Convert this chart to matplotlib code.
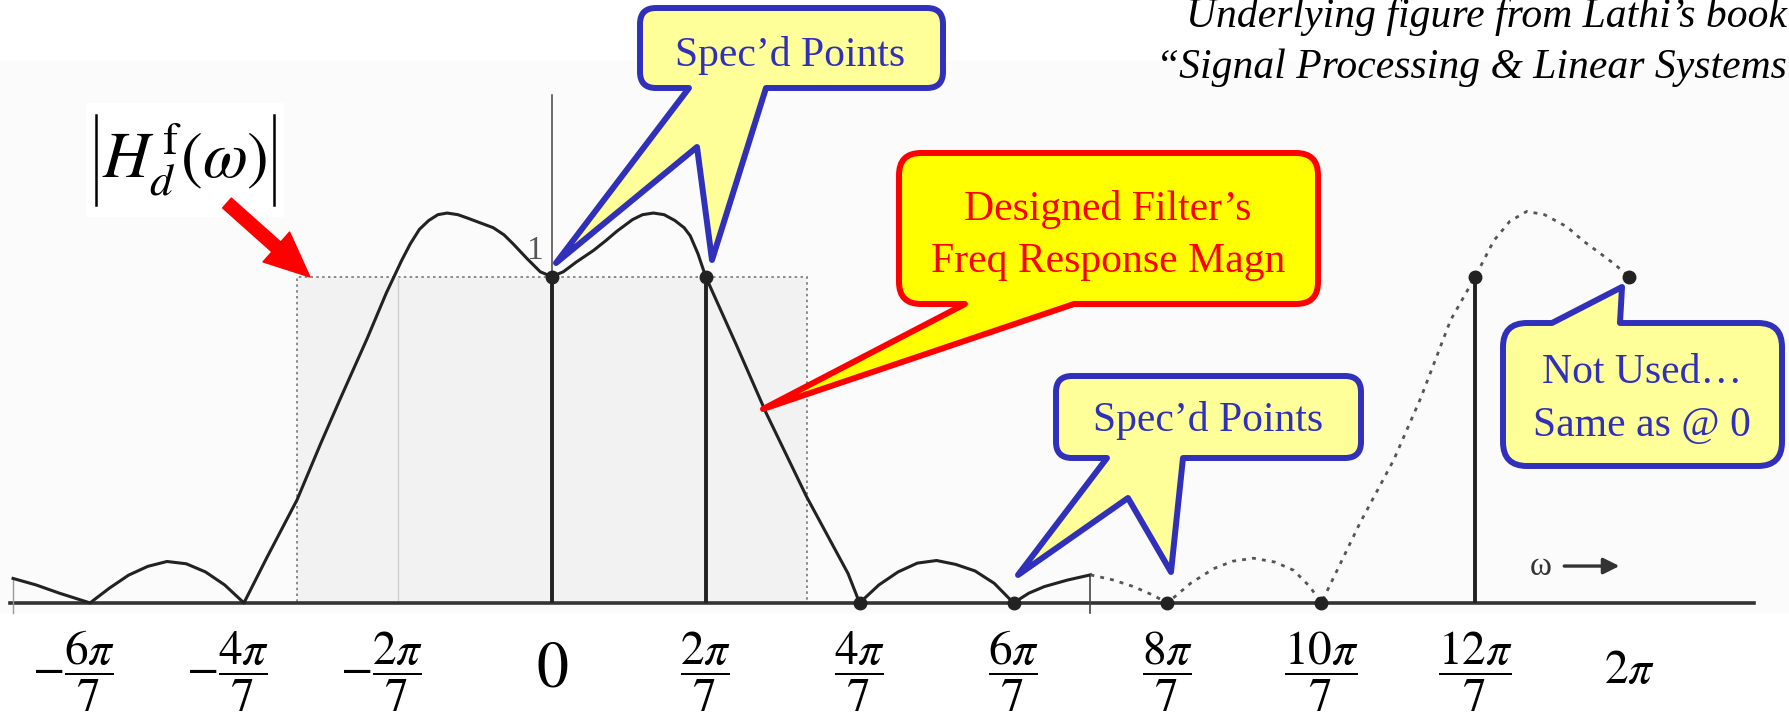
import numpy as np
import matplotlib
matplotlib.use('Agg')
import matplotlib.pyplot as plt
from matplotlib.path import Path
from matplotlib.patches import PathPatch, Rectangle, FancyArrowPatch
from matplotlib.lines import Line2D

plt.rcParams['font.family'] = ['Liberation Serif', 'DejaVu Serif']
plt.rcParams['mathtext.fontset'] = 'stix'

# frequency in units of pi/7, magnitude
solid_w = [-7.0, -6.7, -6.4, -6.0, -5.75, -5.5, -5.25, -5.0, -4.75, -4.5, -4.25, -4.0,
           -3.7, -3.31, -3.0, -2.75, -2.4, -2.15, -1.95, -1.84, -1.72, -1.6, -1.48, -1.36,
           -1.22, -1.1, -0.93, -0.76, -0.62, -0.5, -0.32, -0.15, 0.0, 0.15, 0.32, 0.54, 0.7,
           0.85, 1.05, 1.18, 1.32, 1.46, 1.6, 1.72, 1.8, 1.9, 2.0, 2.4, 2.79, 3.31,
           3.66, 3.85, 4.0, 4.25, 4.5, 4.75, 5.0, 5.25, 5.5, 5.75, 6.0, 6.2, 6.4, 6.7, 7.0]
solid_mag = [0.075, 0.055, 0.03, 0.0, 0.045, 0.085, 0.112, 0.127, 0.12, 0.095, 0.055, 0.0,
             0.14, 0.316, 0.49, 0.625, 0.81, 0.95, 1.05, 1.1, 1.145, 1.172, 1.19, 1.195,
             1.19, 1.18, 1.165, 1.15, 1.128, 1.1, 1.055, 1.015, 1.0, 1.015, 1.045, 1.08, 1.11,
             1.14, 1.175, 1.19, 1.195, 1.19, 1.172, 1.15, 1.125, 1.07, 1.0, 0.79, 0.58, 0.326,
             0.173, 0.09, 0.0, 0.055, 0.095, 0.122, 0.13, 0.118, 0.098, 0.06, 0.0, 0.03, 0.05, 0.07, 0.086]

dotted_w = [7.0, 7.3, 7.56, 7.8, 8.0, 8.3, 8.6, 8.85, 9.12, 9.4, 9.64, 9.85, 10.0,
            10.5, 10.94, 11.29, 11.68, 12.0, 12.24, 12.45, 12.67, 12.9, 13.19, 13.4, 13.62, 13.8, 14.0]
dotted_mag = [0.086, 0.07, 0.05, 0.025, 0.0, 0.06, 0.105, 0.128, 0.137, 0.125, 0.10, 0.05, 0.0,
              0.244, 0.438, 0.627, 0.867, 1.0, 1.11, 1.17, 1.2, 1.19, 1.153, 1.11, 1.072, 1.04, 1.0]

spec_w = [0, 2, 4, 6, 8, 10, 12, 14]
spec_mag = [1, 1, 0, 0, 0, 0, 1, 1]
stem_w = [0, 2, 12]
stem_mag = [1, 1, 1]

ideal_edge = 3.31
ideal_mag = 1.0

tick_pos = [-6, -4, -2, 0, 2, 4, 6, 8, 10, 12, 14]
tick_labels = [r'$-\dfrac{6\pi}{7}$', r'$-\dfrac{4\pi}{7}$', r'$-\dfrac{2\pi}{7}$', r'$0$',
               r'$\dfrac{2\pi}{7}$', r'$\dfrac{4\pi}{7}$', r'$\dfrac{6\pi}{7}$', r'$\dfrac{8\pi}{7}$',
               r'$\dfrac{10\pi}{7}$', r'$\dfrac{12\pi}{7}$', r'$2\pi$']

W, H = 1790, 722
fig = plt.figure(figsize=(W / 100, H / 100), dpi=100)
ax = fig.add_axes([0, 0, 1, 1])
ax.set_xlim(-7.17, 16.09)
ax.set_ylim(-0.365, 1.848)
ax.axis('off')


def px(x, y):
    # reference pixel (y down) -> figure fraction
    return (x / W, 1 - y / H)


# faint scan background + ideal passband box
ax.axhspan(-0.028, 1.66, color='#fbfbfb', zorder=0)
ax.add_patch(Rectangle((-ideal_edge, 0), 2 * ideal_edge, ideal_mag, fc='#f2f2f2', ec='#777777',
                       lw=1.2, ls=(0, (1.5, 2.0)), zorder=1))
ax.plot([-2, -2], [0, ideal_mag], color='#d0d0d0', lw=1.0, zorder=1)

# axes
ax.plot([-7.04, 15.62], [0, 0], color='#333333', lw=2.6, zorder=2)
ax.plot([0, 0], [0, 1.557], color='#444444', lw=1.1, zorder=2)
ax.plot([7, 7], [-0.03, 0.086], color='#444444', lw=1.2, zorder=2)
ax.plot([-7, -7], [-0.03, 0.075], color='#999999', lw=1.0, zorder=2)

# response
ax.plot(solid_w, solid_mag, color='#222222', lw=2.2, solid_joinstyle='round', zorder=3)
ax.plot(dotted_w, dotted_mag, color='#555555', lw=2.0, ls=(0, (1.4, 2.2)), zorder=3)
ax.vlines(stem_w, 0, stem_mag, color='#222222', lw=2.8, zorder=3)
ax.plot(spec_w, spec_mag, 'o', color='#222222', ms=9, zorder=4)

# tick labels
for p, lab in zip(tick_pos, tick_labels):
    x = p - 0.21 if lab.startswith('$-') else p
    fs = 46 if lab == r'$0$' else 34
    ax.text(x, -0.21, lab, ha='center', va='center', fontsize=fs, color='black')

ax.text(-0.12, 1.08, '1', ha='right', va='center', fontsize=24, color='#555555')

# omega arrow
ax.text(12.85, 0.11, 'ω', ha='center', va='center', fontsize=24, color='#333333')
ax.annotate('', xy=(13.91, 0.113), xytext=(13.12, 0.113),
            arrowprops=dict(arrowstyle='-|>', color='#333333', lw=2.4, mutation_scale=24))

# |H| label
fig.add_artist(Rectangle(px(86, 217), 198 / W, 114 / H, transform=fig.transFigure,
                         fc='white', ec='none', zorder=2))
for bx in (96, 274):
    fig.add_artist(Line2D([bx / W, bx / W], [1 - 115 / H, 1 - 205 / H], transform=fig.transFigure,
                          color='black', lw=1.8, zorder=3))
fig.text(*px(185, 160), r'$H_d^{\,\mathrm{f}}(\omega)$', fontsize=47,
         ha='center', va='center', zorder=3)

fig.add_artist(FancyArrowPatch(px(227, 203), px(310, 277), transform=fig.transFigure,
                               arrowstyle='simple,head_length=1.3,head_width=1.15,tail_width=0.38',
                               mutation_scale=25, color='#ff0000', shrinkA=0, shrinkB=0, zorder=3))


def callout(x0, y0, x1, y1, r, tail, top=False):
    verts, codes = [], []

    def ln(p):
        verts.append(p)
        codes.append(Path.LINETO)

    def cv(c, p):
        verts.extend([c, p])
        codes.extend([Path.CURVE3, Path.CURVE3])

    verts.append((x0 + r, y0))
    codes.append(Path.MOVETO)
    if top:
        for p in tail:
            ln(p)
    ln((x1 - r, y0)); cv((x1, y0), (x1, y0 + r))
    ln((x1, y1 - r)); cv((x1, y1), (x1 - r, y1))
    if not top:
        for p in tail:
            ln(p)
    ln((x0 + r, y1)); cv((x0, y1), (x0, y1 - r))
    ln((x0, y0 + r)); cv((x0, y0), (x0 + r, y0))
    verts.append((x0 + r, y0))
    codes.append(Path.CLOSEPOLY)
    return Path([px(*v) for v in verts], codes)


blue = '#3030bb'
pale = '#ffff99'
boxes = [
    (callout(640, 8, 943, 88, 16, [(766, 88), (712, 260), (697, 147), (556, 263), (689, 88)]), pale, blue),
    (callout(1056, 376, 1361, 458, 16, [(1183, 458), (1171, 572), (1128, 498), (1018, 575), (1107, 458)]), pale, blue),
    (callout(899, 153, 1318, 304, 22, [(1074, 304), (763, 409), (965, 304)]), '#ffff00', '#ff0000'),
    (callout(1503, 323, 1782, 466, 24, [(1552, 323), (1622, 287), (1620, 323)], top=True), pale, blue),
]
for path, fc, ec in boxes:
    fig.add_artist(PathPatch(path, transform=fig.transFigure, fc=fc, ec=ec, lw=4.3,
                             joinstyle='round', zorder=4))

fig.text(*px(790, 66), 'Spec’d Points', color=blue, fontsize=30, ha='center', va='baseline', zorder=5)
fig.text(*px(1208, 431), 'Spec’d Points', color=blue, fontsize=30, ha='center', va='baseline', zorder=5)
fig.text(*px(1108, 220), 'Designed Filter’s', color='#ff0000', fontsize=30, ha='center', va='baseline', zorder=5)
fig.text(*px(1108, 272), 'Freq Response Magn', color='#ff0000', fontsize=30, ha='center', va='baseline', zorder=5)
fig.text(*px(1642, 383), 'Not Used…', color=blue, fontsize=30, ha='center', va='baseline', zorder=5)
fig.text(*px(1642, 436), 'Same as @ 0', color=blue, fontsize=30, ha='center', va='baseline', zorder=5)

# source note
fig.text(*px(1787, 27), 'Underlying figure from Lathi’s book', fontsize=30, style='italic',
         ha='right', va='baseline')
fig.text(*px(1787, 78), '“Signal Processing & Linear Systems', fontsize=30, style='italic',
         ha='right', va='baseline')

fig.savefig('out.png', dpi=100)
